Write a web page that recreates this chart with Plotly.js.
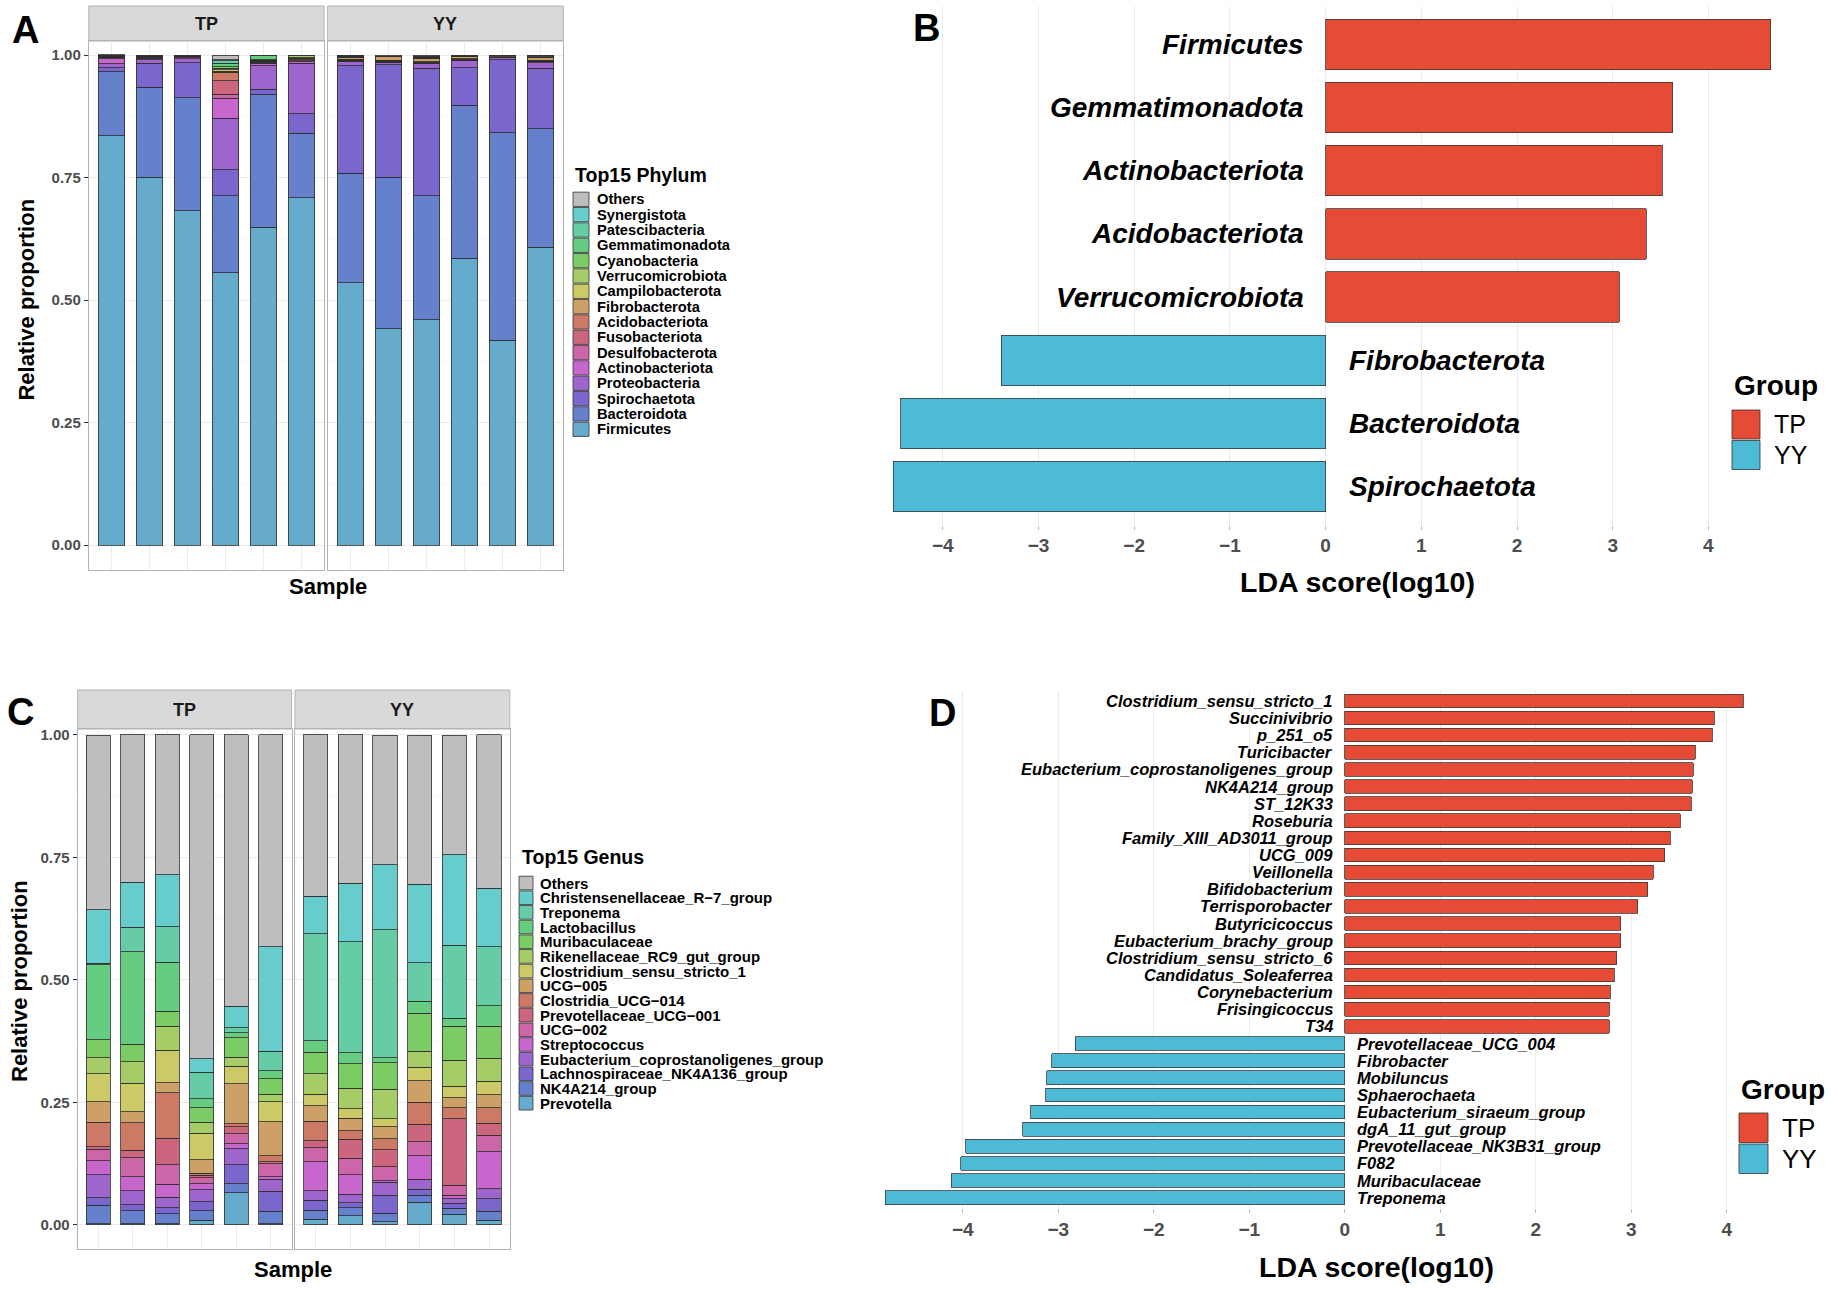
<!DOCTYPE html>
<html>
<head>
<meta charset="utf-8">
<script src="https://cdn.plot.ly/plotly-3.0.1.min.js"></script>
<style>
html,body{margin:0;padding:0;background:#ffffff;}
#chart{width:1831px;height:1289px;}
</style>
</head>
<body>
<div id="chart"></div>
<script>
// ---------------- DATA ----------------
const tpSamples = ['TP1','TP2','TP3','TP4','TP5','TP6'];
const yySamples = ['YY1','YY2','YY3','YY4','YY5','YY6'];
const groupNames = ['TP','YY'];

// Panel A: phylum relative abundance (TP1..TP6, YY1..YY6), stack order bottom -> top
const phylumNames = ['Firmicutes','Bacteroidota','Spirochaetota','Proteobacteria','Actinobacteriota',
  'Desulfobacterota','Fusobacteriota','Acidobacteriota','Fibrobacterota','Campilobacterota',
  'Verrucomicrobiota','Cyanobacteria','Gemmatimonadota','Patescibacteria','Synergistota','Others'];
const phyFirmicutes        = [0.835,0.751,0.682,0.556,0.648,0.709, 0.535,0.441,0.460,0.585,0.418,0.608];
const phyBacteroidota      = [0.131,0.183,0.231,0.157,0.272,0.131, 0.224,0.310,0.253,0.312,0.423,0.242];
const phySpirochaetota     = [0.008,0.049,0.071,0.053,0.010,0.040, 0.219,0.229,0.260,0.077,0.149,0.123];
const phyProteobacteria    = [0.008,0.007,0.008,0.105,0.048,0.103, 0.009,0.005,0.009,0.014,0.004,0.011];
const phyActinobacteriota  = [0.010,0.003,0.002,0.041,0.005,0.003, 0.001,0.001,0.001,0.001,0.001,0.002];
const phyDesulfobacterota  = [0.002,0.002,0.002,0.008,0.002,0.002, 0.001,0.001,0.001,0.001,0.001,0.001];
const phyFusobacteriota    = [0.001,0.001,0.001,0.027,0.001,0.002, 0.001,0.001,0.001,0.001,0.000,0.001];
const phyAcidobacteriota   = [0.001,0.001,0.001,0.018,0.001,0.002, 0.001,0.001,0.001,0.001,0.000,0.001];
const phyFibrobacterota    = [0.001,0.001,0.000,0.002,0.001,0.001, 0.003,0.008,0.007,0.004,0.002,0.006];
const phyCampilobacterota  = [0.0005,0.000,0.000,0.003,0.001,0.001, 0.000,0.000,0.000,0.000,0.000,0.000];
const phyVerrucomicrobiota = [0.0005,0.000,0.000,0.003,0.001,0.004, 0.001,0.000,0.001,0.000,0.000,0.000];
const phyCyanobacteria     = [0.0005,0.000,0.000,0.003,0.000,0.001, 0.000,0.000,0.000,0.000,0.000,0.000];
const phyGemmatimonadota   = [0.0005,0.000,0.000,0.007,0.009,0.000, 0.001,0.000,0.000,0.000,0.000,0.000];
const phyPatescibacteria   = [0.0005,0.000,0.000,0.005,0.000,0.000, 0.001,0.000,0.001,0.001,0.000,0.001];
const phySynergistota      = [0.0005,0.000,0.000,0.002,0.000,0.000, 0.002,0.000,0.002,0.001,0.000,0.002];
const phyOthers            = [0.001,0.002,0.002,0.010,0.001,0.001, 0.001,0.003,0.003,0.002,0.002,0.002];
const phylumValues = [phyFirmicutes,phyBacteroidota,phySpirochaetota,phyProteobacteria,phyActinobacteriota,
  phyDesulfobacterota,phyFusobacteriota,phyAcidobacteriota,phyFibrobacterota,phyCampilobacterota,
  phyVerrucomicrobiota,phyCyanobacteria,phyGemmatimonadota,phyPatescibacteria,phySynergistota,phyOthers];

// Panel C: genus relative abundance, stack order bottom -> top
const genusNames = ['Prevotella','NK4A214_group','Lachnospiraceae_NK4A136_group','Eubacterium_coprostanoligenes_group',
  'Streptococcus','UCG\u2212002','Prevotellaceae_UCG\u2212001','Clostridia_UCG\u2212014','UCG\u2212005',
  'Clostridium_sensu_stricto_1','Rikenellaceae_RC9_gut_group','Muribaculaceae','Lactobacillus','Treponema',
  'Christensenellaceae_R\u22127_group','Others'];
const genPrevotella     = [0.003,0.003,0.003,0.010,0.066,0.003, 0.012,0.019,0.007,0.046,0.022,0.010];
const genNK4A214        = [0.037,0.026,0.020,0.019,0.018,0.025, 0.018,0.016,0.017,0.015,0.012,0.018];
const genLachnoNK4A136  = [0.016,0.012,0.012,0.018,0.039,0.041, 0.020,0.010,0.037,0.012,0.010,0.026];
const genEubacterium    = [0.046,0.029,0.022,0.025,0.033,0.024, 0.020,0.018,0.026,0.020,0.010,0.020];
const genStreptococcus  = [0.029,0.028,0.026,0.012,0.010,0.005, 0.059,0.039,0.003,0.048,0.007,0.075];
const genUCG002         = [0.024,0.039,0.040,0.012,0.020,0.027, 0.029,0.034,0.029,0.029,0.020,0.034];
const genPrevoUCG001    = [0.005,0.016,0.054,0.005,0.014,0.004, 0.014,0.039,0.035,0.036,0.136,0.025];
const genClostrUCG014   = [0.050,0.056,0.093,0.005,0.007,0.012, 0.040,0.017,0.022,0.044,0.022,0.031];
const genUCG005         = [0.041,0.022,0.020,0.027,0.081,0.070, 0.031,0.026,0.024,0.044,0.021,0.027];
const genClostSS1       = [0.058,0.058,0.067,0.054,0.036,0.040, 0.024,0.019,0.017,0.028,0.023,0.027];
const genRikenellaceae  = [0.032,0.044,0.048,0.023,0.018,0.016, 0.042,0.042,0.060,0.033,0.053,0.047];
const genMuribaculaceae = [0.037,0.036,0.031,0.029,0.040,0.031, 0.043,0.050,0.054,0.077,0.070,0.065];
const genLactobacillus  = [0.153,0.189,0.100,0.019,0.010,0.017, 0.024,0.022,0.010,0.025,0.016,0.042];
const genTreponema      = [0.003,0.050,0.073,0.054,0.010,0.040, 0.218,0.227,0.261,0.078,0.149,0.121];
const genChristensen    = [0.109,0.091,0.106,0.027,0.044,0.213, 0.077,0.119,0.133,0.160,0.184,0.119];
const genOthers         = [0.356,0.302,0.286,0.661,0.554,0.432, 0.330,0.303,0.264,0.304,0.244,0.313];
const genusValues = [genPrevotella,genNK4A214,genLachnoNK4A136,genEubacterium,genStreptococcus,genUCG002,
  genPrevoUCG001,genClostrUCG014,genUCG005,genClostSS1,genRikenellaceae,genMuribaculaceae,genLactobacillus,
  genTreponema,genChristensen,genOthers];

// Panel B: LEfSe phylum (top -> bottom)
const ldaPhylumNames  = ['Firmicutes','Gemmatimonadota','Actinobacteriota','Acidobacteriota','Verrucomicrobiota',
  'Fibrobacterota','Bacteroidota','Spirochaetota'];
const ldaPhylumScores = [4.65,3.63,3.52,3.35,3.07,-3.39,-4.44,-4.52];
const ldaPhylumGroups = ['TP','TP','TP','TP','TP','YY','YY','YY'];

// Panel D: LEfSe genus (top -> bottom)
const ldaGenusNames = ['Clostridium_sensu_stricto_1','Succinivibrio','p_251_o5','Turicibacter',
  'Eubacterium_coprostanoligenes_group','NK4A214_group','ST_12K33','Roseburia','Family_XIII_AD3011_group',
  'UCG_009','Veillonella','Bifidobacterium','Terrisporobacter','Butyricicoccus','Eubacterium_brachy_group',
  'Clostridium_sensu_stricto_6','Candidatus_Soleaferrea','Corynebacterium','Frisingicoccus','T34',
  'Prevotellaceae_UCG_004','Fibrobacter','Mobiluncus','Sphaerochaeta','Eubacterium_siraeum_group',
  'dgA_11_gut_group','Prevotellaceae_NK3B31_group','F082','Muribaculaceae','Treponema'];
const ldaGenusScores = [4.17,3.87,3.85,3.67,3.65,3.64,3.63,3.51,3.41,3.35,3.23,3.17,3.07,2.89,2.89,
  2.85,2.82,2.78,2.77,2.77, -2.82,-3.07,-3.12,-3.13,-3.29,-3.37,-3.97,-4.02,-4.12,-4.81];
const ldaGenusGroups = ['TP','TP','TP','TP','TP','TP','TP','TP','TP','TP','TP','TP','TP','TP','TP',
  'TP','TP','TP','TP','TP','YY','YY','YY','YY','YY','YY','YY','YY','YY','YY'];

const yTickVals = [0,0.25,0.5,0.75,1];
const yTickText = ['0.00','0.25','0.50','0.75','1.00'];
const ldaTicks = [-4,-3,-2,-1,0,1,2,3,4];

// ---------------- STYLE ----------------
const W = 1831, H = 1289;
const FONT = 'Liberation Sans, Arial, Helvetica, sans-serif';
const taxaColors = ['#66AACC','#6681CC','#7A66CC','#9E66CC','#C766CC','#CC66A8','#CC667E','#CC7A66',
  '#CCA066','#CCCA66','#A5CC66','#7CCC66','#66CC80','#66CCA6','#66CCCC','#BEBEBE'];
const groupColors = {TP:'#E64B35', YY:'#4DBBD5'};
const px = v => v / W;
const py = v => 1 - v / H;

const traces = [];
const shapes = [];
const annotations = [];

// stacked bars for A and C
function addStack(values, colors, names, xa1, ya1, xa2, ya2) {
  values.forEach((vals, i) => {
    [[tpSamples, vals.slice(0,6), xa1, ya1], [yySamples, vals.slice(6,12), xa2, ya2]].forEach(([xs, ys, xa, ya]) => {
      traces.push({
        type:'bar', x: xs, y: ys, xaxis: xa, yaxis: ya, width: 0.7, name: names[i],
        marker:{color: colors[i], line:{color:'#2E2E2E', width:0.8}},
        showlegend:false, hoverinfo:'x+y+name'
      });
    });
  });
}
addStack(phylumValues, taxaColors, phylumNames, 'x','y','x2','y2');
addStack(genusValues, taxaColors, genusNames, 'x4','y4','x5','y5');

// LDA bars
traces.push({
  type:'bar', orientation:'h', x: ldaPhylumScores, y: ldaPhylumNames, xaxis:'x3', yaxis:'y3', width:0.8,
  marker:{color: ldaPhylumGroups.map(g => groupColors[g]), line:{color:'#3A3A3A', width:0.8}},
  showlegend:false, hoverinfo:'x+y'
});
traces.push({
  type:'bar', orientation:'h', x: ldaGenusScores, y: ldaGenusNames, xaxis:'x6', yaxis:'y6', width:0.8,
  marker:{color: ldaGenusGroups.map(g => groupColors[g]), line:{color:'#3A3A3A', width:0.8}},
  showlegend:false, hoverinfo:'x+y'
});

// ---------------- AXES ----------------
const gridC = '#EBEBEB';
function facetX(d0, d1, anchor) {
  return {domain:[px(d0), px(d1)], anchor: anchor, type:'category', range:[-0.6,5.6],
    showticklabels:false, ticks:'', showgrid:true, gridcolor:gridC, gridwidth:1,
    showline:true, mirror:true, linecolor:'#B3B3B3', linewidth:1, zeroline:false, fixedrange:true};
}
function facetY(top, bottom, anchor, rng, labels) {
  return {domain:[py(bottom), py(top)], anchor: anchor, range: rng,
    tickmode:'array', tickvals: yTickVals, ticktext: yTickText,
    showticklabels: labels, ticks: labels ? 'outside' : '', ticklen:4, tickwidth:1, tickcolor:'#333333',
    tickfont:{family:FONT, size:15, color:'#4D4D4D', weight:'bold'},
    showgrid:true, gridcolor:gridC, gridwidth:1,
    minor:{tickmode:'array', tickvals:[0.125,0.375,0.625,0.875], showgrid:true, gridcolor:'#F5F5F5', gridwidth:0.6, ticks:''},
    showline:true, mirror:true, linecolor:'#B3B3B3', linewidth:1, zeroline:false, fixedrange:true};
}
function ldaX(d0, d1, anchor, rng) {
  return {domain:[px(d0), px(d1)], anchor: anchor, range: rng, tickmode:'array', tickvals: ldaTicks,
    showgrid:true, gridcolor:gridC, gridwidth:1, zeroline:false, showline:false,
    ticks:'outside', ticklen:4, tickcolor:'#BBBBBB', tickwidth:1,
    tickfont:{family:FONT, size:19, color:'#4D4D4D', weight:'bold'}, fixedrange:true};
}
function ldaY(top, bottom, anchor, names) {
  return {domain:[py(bottom), py(top)], anchor: anchor, type:'category', categoryorder:'array',
    categoryarray: names, range:[names.length - 0.4, -0.6], showticklabels:false, ticks:'',
    showgrid:false, zeroline:false, showline:false, fixedrange:true};
}

const layout = {
  width: W, height: H, margin:{l:0,r:0,t:0,b:0,pad:0},
  paper_bgcolor:'#ffffff', plot_bgcolor:'rgba(0,0,0,0)',
  barmode:'stack', showlegend:false,
  font:{family:FONT, color:'#000000'},
  xaxis:  facetX(88.8, 324.1, 'y'),
  xaxis2: facetX(327.6, 563.3, 'y2'),
  yaxis:  facetY(41, 570, 'x', [-0.051, 1.0286], true),
  yaxis2: facetY(41, 570, 'x2', [-0.051, 1.0286], false),
  xaxis4: facetX(77.7, 291.6, 'y4'),
  xaxis5: facetX(295, 509.8, 'y5'),
  yaxis4: facetY(729, 1248.8, 'x4', [-0.0486, 1.012], true),
  yaxis5: facetY(729, 1248.8, 'x5', [-0.0486, 1.012], false),
  xaxis3: ldaX(1325.6 - 4.75*95.7, 1325.6 + 4.9*95.7, 'y3', [-4.75, 4.9]),
  yaxis3: ldaY(6.4, 524.6, 'x3', ldaPhylumNames),
  xaxis6: ldaX(1344.8 - 4.9*95.5, 1344.8 + 4.4*95.5, 'y6', [-4.9, 4.4]),
  yaxis6: ldaY(690.6, 1208, 'x6', ldaGenusNames),
  shapes: shapes, annotations: annotations
};

// ---------------- STRIPS ----------------
function strip(x0, x1, y0, y1, label) {
  shapes.push({type:'rect', xref:'paper', yref:'paper', x0:px(x0), x1:px(x1), y0:py(y1), y1:py(y0),
    fillcolor:'#D9D9D9', line:{color:'#B3B3B3', width:1}, layer:'below'});
  annotations.push({xref:'paper', yref:'paper', x:px((x0+x1)/2), y:py((y0+y1)/2), text:label,
    showarrow:false, xanchor:'center', yanchor:'middle',
    font:{family:FONT, size:18, color:'#1A1A1A', weight:'bold'}});
}
strip(88.8, 324.1, 6, 41, groupNames[0]);
strip(327.6, 563.3, 6, 41, groupNames[1]);
strip(77.7, 291.6, 690, 729, groupNames[0]);
strip(295, 509.8, 690, 729, groupNames[1]);

// ---------------- TEXT ----------------
function txt(x, y, text, size, opts) {
  annotations.push(Object.assign({xref:'paper', yref:'paper', x:px(x), y:py(y), text:text, showarrow:false,
    xanchor:'center', yanchor:'middle', font:{family:FONT, size:size, color:'#000000', weight:'bold'}}, opts || {}));
}
txt(25, 30, 'A', 38);
txt(926.5, 28, 'B', 38);
txt(20, 712, 'C', 38);
txt(943, 713, 'D', 38);
txt(327.6, 586, 'Sample', 22);
txt(292.8, 1269.7, 'Sample', 22);
txt(25.6, 300, 'Relative proportion', 22, {textangle:-90});
txt(19, 981, 'Relative proportion', 22, {textangle:-90});
txt(1357.5, 582, 'LDA score(log10)', 28.5);
txt(1376.4, 1266.5, 'LDA score(log10)', 28.5);

// LDA labels next to zero
function ldaLabels(names, scores, xa, ya, size, shiftPos, shiftNeg) {
  names.forEach((n, i) => {
    const pos = scores[i] > 0;
    annotations.push({xref: xa, yref: ya, x: 0, y: n, text: n, showarrow:false,
      xanchor: pos ? 'right' : 'left', yanchor:'middle', xshift: pos ? shiftPos : shiftNeg,
      font:{family:FONT, size:size, color:'#000000', weight:'bold', style:'italic'}});
  });
}
ldaLabels(ldaPhylumNames, ldaPhylumScores, 'x3', 'y3', 28, -20, 21);
ldaLabels(ldaGenusNames, ldaGenusScores, 'x6', 'y6', 16.5, -10, 10);

// ---------------- LEGENDS ----------------
function taxaLegend(title, names, colors, titleX, titleY, keyX0, keyX1, firstY, step, keyH, textX, fsize) {
  txt(titleX, titleY, title, 19.5, {xanchor:'left'});
  for (let k = 0; k < names.length; k++) {
    const idx = names.length - 1 - k;
    const yc = firstY + step * k;
    shapes.push({type:'rect', xref:'paper', yref:'paper', x0:px(keyX0), x1:px(keyX1),
      y0:py(yc + keyH/2), y1:py(yc - keyH/2), fillcolor: colors[idx], line:{color:'#333333', width:0.8}});
    txt(textX, yc, names[idx], fsize, {xanchor:'left'});
  }
}
taxaLegend('Top15 Phylum', phylumNames, taxaColors, 573, 175, 573, 589, 199.3, 15.33, 14.3, 595, 14.7);
taxaLegend('Top15 Genus', genusNames, taxaColors, 519.5, 856.5, 519, 533, 883, 14.68, 13.6, 538, 15);

function groupLegend(titleX, titleY, keyX0, keyX1, keyTops, keyH, textX, fsize) {
  txt(titleX, titleY, 'Group', 28, {xanchor:'left'});
  groupNames.forEach((g, k) => {
    shapes.push({type:'rect', xref:'paper', yref:'paper', x0:px(keyX0), x1:px(keyX1),
      y0:py(keyTops[k] + keyH), y1:py(keyTops[k]), fillcolor: groupColors[g], line:{color:'#333333', width:0.8}});
    txt(textX, keyTops[k] + keyH/2, g, fsize, {xanchor:'left', font:{family:FONT, size:fsize, color:'#000000', weight:'normal'}});
  });
}
groupLegend(1732, 385.5, 1732, 1760, [410, 440.5], 29, 1772, 25);
groupLegend(1739, 1089, 1739, 1768, [1113, 1144], 29.5, 1780, 26);

Plotly.newPlot('chart', traces, layout, {displayModeBar:false, responsive:false, staticPlot:true});
</script>
</body>
</html>
